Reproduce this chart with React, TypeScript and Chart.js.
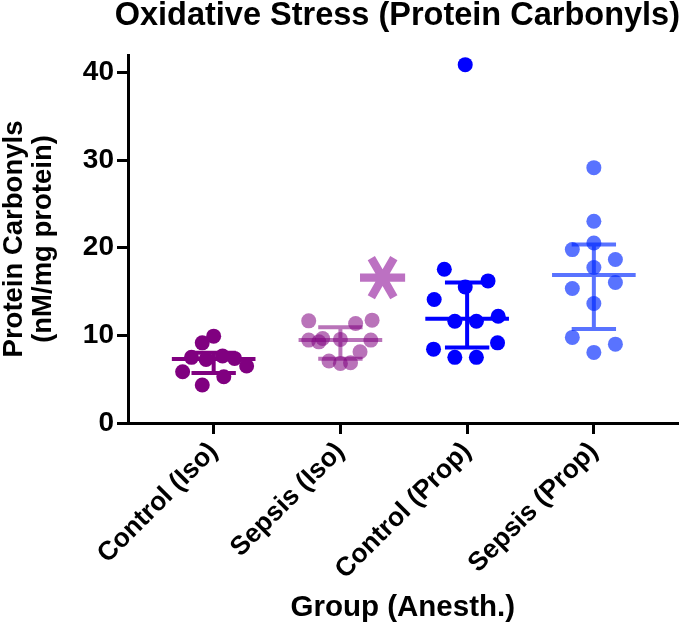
import React, { useEffect, useRef } from "react";
import { Chart, registerables } from "chart.js";

Chart.register(...registerables);

const FONT = "'Liberation Sans', Arial, Helvetica, sans-serif";

// ---- data ----
const categories = ["Control (Iso)", "Sepsis (Iso)", "Control (Prop)", "Sepsis (Prop)"];
const yTicks = [0, 10, 20, 30, 40];

const controlIso = [9.91, 9.15, 7.49, 7.26, 7.64, 7.37, 6.5, 5.85, 5.28, 4.33];
const controlIsoJitter = [0, -0.09, -0.175, -0.06, 0.07, 0.165, 0.26, -0.245, 0.08, -0.09];

const sepsisIso = [11.66, 11.36, 11.74, 9.46, 9.65, 9.26, 9.54, 9.46, 8.13, 7.07, 6.8, 6.87];
const sepsisIsoJitter = [-0.25, 0.12, 0.25, -0.25, -0.14, -0.17, 0, 0.24, 0.155, -0.09, 0, 0.08];

const controlProp = [17.55, 16.22, 15.53, 14.1, 11.62, 11.62, 12.19, 8.43, 9.15, 7.49, 7.49, 40.9];
const controlPropJitter = [-0.18, 0.165, -0.015, -0.26, -0.097, 0.073, 0.245, -0.265, 0.24, -0.097, 0.073, -0.015];

const sepsisProp = [29.14, 23.02, 20.55, 19.79, 18.66, 17.74, 16.03, 15.35, 13.64, 9.77, 9.0, 8.06];
const sepsisPropJitter = [0, 0, 0, -0.17, 0.17, 0, 0.17, -0.17, 0, -0.17, 0.17, 0];

const groupValues = [controlIso, sepsisIso, controlProp, sepsisProp];
const groupJitter = [controlIsoJitter, sepsisIsoJitter, controlPropJitter, sepsisPropJitter];
const groupColors = ["#800080", "rgba(128,0,128,0.55)", "#0000ff", "rgba(0,40,255,0.65)"];

// significance marker (drawn next to Sepsis (Iso))
const sigText = "\u2217";
const sigX = 2.34;
const sigY = 16.6;
const sigColor = "rgba(140,10,150,0.58)";

// ---- helpers ----
function quantile(values: number[], p: number) {
  const s = [...values].sort((a, b) => a - b);
  const pos = (s.length + 1) * p;
  const lo = Math.floor(pos);
  const frac = pos - lo;
  if (lo < 1) return s[0];
  if (lo >= s.length) return s[s.length - 1];
  return s[lo - 1] + frac * (s[lo] - s[lo - 1]);
}

const summaryPlugin = {
  id: "summaryLines",
  beforeDatasetsDraw(chart: any) {
    const { ctx } = chart;
    const xs = chart.scales.x;
    const ys = chart.scales.y;
    groupValues.forEach((vals, i) => {
      const c = i + 1;
      const med = quantile(vals, 0.5);
      const q1 = quantile(vals, 0.25);
      const q3 = quantile(vals, 0.75);
      const px = (v: number) => xs.getPixelForValue(v);
      const py = (v: number) => ys.getPixelForValue(v);
      ctx.save();
      ctx.strokeStyle = groupColors[i];
      ctx.lineWidth = 4;
      ctx.lineCap = "butt";
      ctx.beginPath();
      ctx.moveTo(px(c - 0.33), py(med));
      ctx.lineTo(px(c + 0.33), py(med));
      ctx.moveTo(px(c - 0.175), py(q1));
      ctx.lineTo(px(c + 0.175), py(q1));
      ctx.moveTo(px(c - 0.175), py(q3));
      ctx.lineTo(px(c + 0.175), py(q3));
      ctx.moveTo(px(c), py(q1));
      ctx.lineTo(px(c), py(q3));
      ctx.stroke();
      ctx.restore();
    });
  },
  afterDatasetsDraw(chart: any) {
    const { ctx } = chart;
    const x = chart.scales.x.getPixelForValue(sigX);
    const y = chart.scales.y.getPixelForValue(sigY);
    ctx.save();
    ctx.font = `bold 72px 'DejaVu Sans', sans-serif`;
    ctx.fillStyle = sigColor;
    ctx.textAlign = "left";
    ctx.textBaseline = "alphabetic";
    const m = ctx.measureText(sigText);
    const cx = (m.actualBoundingBoxRight - m.actualBoundingBoxLeft) / 2;
    const cy = (m.actualBoundingBoxDescent - m.actualBoundingBoxAscent) / 2;
    ctx.translate(x, y);
    ctx.rotate(Math.PI / 2);
    ctx.fillText(sigText, -cx, -cy);
    ctx.restore();
  },
};

export default function App() {
  const ref = useRef<HTMLCanvasElement | null>(null);
  useEffect(() => {
    if (!ref.current) return;
    Chart.defaults.font.family = FONT;
    const datasets = groupValues.map((vals, i) => ({
      label: categories[i],
      data: vals.map((v, k) => ({ x: i + 1 + groupJitter[i][k], y: v })),
      backgroundColor: groupColors[i],
      borderWidth: 0,
      pointRadius: 7.5,
      pointHoverRadius: 7.5,
    }));
    const chart = new Chart(ref.current, {
      type: "scatter",
      data: { datasets },
      plugins: [summaryPlugin],
      options: {
        animation: false,
        responsive: false,
        layout: { padding: { left: 0, right: 5, top: 0, bottom: 0 } },
        plugins: {
          legend: { display: false },
          tooltip: { enabled: false },
          title: {
            display: true,
            text: "Oxidative Stress (Protein Carbonyls)",
            align: "end",
            color: "#000",
            font: { family: FONT, size: 32.5, weight: "bold", lineHeight: 1 },
            padding: { top: 0, bottom: 22.5 },
          },
        },
        scales: {
          x: {
            type: "linear",
            min: 0.324,
            max: 4.66,
            afterBuildTicks: (s: any) => {
              s.ticks = categories.map((_, i) => ({ value: i + 1 }));
            },
            afterFit: (s: any) => {
              s.height = 629 - 423;
            },
            border: { color: "#000", width: 3 },
            grid: { drawOnChartArea: false, color: "#000", lineWidth: 3, tickLength: 11 },
            ticks: {
              autoSkip: false,
              maxRotation: 45,
              minRotation: 45,
              color: "#000",
              padding: 2,
              font: { family: FONT, size: 26.5, weight: "bold" },
              callback: (v: any) => categories[Math.round(Number(v)) - 1] ?? "",
            },
            title: {
              display: true,
              text: "Group (Anesth.)",
              color: "#000",
              font: { family: FONT, size: 29.5, weight: "bold", lineHeight: 1 },
              padding: { top: 0, bottom: 6 },
            },
          },
          y: {
            type: "linear",
            min: 0,
            max: 42,
            afterBuildTicks: (s: any) => {
              s.ticks = yTicks.map((v) => ({ value: v }));
            },
            afterFit: (s: any) => {
              s.width = 128;
            },
            border: { color: "#000", width: 3 },
            grid: { drawOnChartArea: false, color: "#000", lineWidth: 3, tickLength: 11 },
            ticks: {
              color: "#000",
              padding: 3,
              font: { family: FONT, size: 28, weight: "bold" },
            },
            title: {
              display: true,
              text: ["Protein Carbonyls", "(nM/mg protein)"],
              color: "#000",
              font: { family: FONT, size: 27.5, weight: "bold", lineHeight: 29 / 27.5 },
              padding: 0,
            },
          },
        },
      } as any,
    });
    return () => chart.destroy();
  }, []);

  return (
    <div style={{ position: "fixed", left: 0, top: 0, width: 685, height: 629, background: "#fff" }}>
      <canvas ref={ref} width={685} height={629} style={{ display: "block" }} />
    </div>
  );
}
